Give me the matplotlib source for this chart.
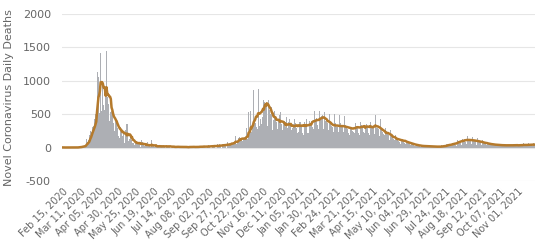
import numpy as np
import pandas as pd
import matplotlib
matplotlib.use("Agg")
import matplotlib.pyplot as plt

start_date = "2020-02-15"

feb_2020 = [1,0,0,0,0,0,0,0,0,0,0,1,0,0,0]
mar_2020 = [0,0,1,1,0,3,2,7,0,11,15,12,18,12,36,21,27,69,128,78,112,112,186,240,231,365,299,319,292,418,499]
apr_2020 = [509,1355,1120,1053,518,833,1417,541,1341,987,635,561,574,762,1438,753,761,642,395,547,531,544,516,389,369,242,437,367,427,289]
may_2020 = [218,166,135,306,330,278,178,243,80,70,263,348,83,351,104,96,130,186,110,131,66,74,43,35,90,98,65,66,52,57,31]
jun_2020 = [13,107,81,44,46,29,13,31,23,87,28,24,29,10,9,111,28,14,28,14,11,24,23,13,13,31,21,6,7,30]
jul_2020 = [18,14,25,16,0,27,14,17,14,21,25,0,0,19,11,17,15,0,0,9,14,19,11,10,0,0,10,15,15,12,0]
aug_2020 = [0,0,12,11,11,0,19,0,0,12,17,17,0,9,0,0,13,17,12,11,23,0,0,18,18,26,14,15,0,0,20]
sep_2020 = [25,30,26,20,0,0,24,34,35,37,18,0,0,46,33,41,50,34,0,0,47,58,50,53,56,0,0,81,58,48]
oct_2020 = [65,61,50,49,72,79,80,88,178,54,40,85,146,163,162,137,141,89,95,146,163,162,137,298,116,128,523,244,235,545,231]
nov_2020 = [302,231,854,385,363,828,306, 271,551,880,328,425,910,354, 452,706,787,675,616,760,628,
            326,704,606,558,500,600,350, 264,414]
dec_2020 = [506,551,457,375,314,274,416, 492,362,527,345,304,256,368, 396,342,304,459,286,239,386,
            420,303,373,260,292,223,351, 420,372,364]
jan_2021 = [294,216,230, 429,374,388,327,322,220,193, 500,377,317,419,284,218,223,
            520,402,360,390,480,312,272, 540,412,405,437,480,331,280]
feb_2021 = [550,520,444,463,486,405,278, 530,446,398,412,370,300,260, 500,388,339,318,301,256,227,
            500,366,330,311,303,237,219]
mar_2021 = [480,359,314,324,305,234,197, 470,336,294,309,274,214,183, 460,313,279,278,251,227,213,
            450,363,315,291,266,215,191, 470,381,330]
apr_2021 = [304,305,231,214, 296,480,354,313,296,211,190, 380,450,300,297,297,290,196,
            480,359,298,288,270,232,169, 419,290,259,226,200]
may_2021 = [183,124, 285,243,271,208,182,119,84, 255,197,178,130,127,105,76, 186,143,115,128,104,77,57,
            152,131,111,91,84,69,54, 106]
jun_2021 = [96,77,67,59,51,33, 70,62,51,45,38,27,18, 53,38,34,27,24,18,12, 34,26,24,22,19,14,9, 30,22,18]
jul_2021 = [16,14,12,6, 24,18,15,14,12,8,5, 20,17,15,12,14,9,6, 30,28,26,25,24,18,12, 58,52,46,44,40,28]
aug_2021 = [20,88,74,64,65,60,42,25, 131,112,96,99,93,64,43, 160,132,118,122,110,84,56,
            165,135,120,118,108,78,50, 150,128]
sep_2021 = [115,106,96,66,42, 140,105,95,85,80,55,35, 110,85,72,70,62,40,28, 85,65,55,50,45,32,22,
            70,52,45,40]
oct_2021 = [36,25,18, 56,42,38,35,32,24,16, 52,40,36,33,30,22,15, 50,40,36,32,30,22,16,
            55,42,38,35,32,24,18]
nov_2021 = [40,48,42,38,34,26,18, 60,46,42,38,35,27,19, 66,52,46,42,38,30,22, 70,55]

daily_deaths = (feb_2020 + mar_2020 + apr_2020 + may_2020 + jun_2020 + jul_2020 + aug_2020 +
                sep_2020 + oct_2020 + nov_2020 + dec_2020 + jan_2021 + feb_2021 + mar_2021 +
                apr_2021 + may_2021 + jun_2021 + jul_2021 + aug_2021 + sep_2021 + oct_2021 + nov_2021)

dates = pd.date_range(start_date, periods=len(daily_deaths), freq="D")
series = pd.Series(daily_deaths, index=dates, dtype=float)
avg7 = series.rolling(7, min_periods=1).mean()

y_ticks = [-500, 0, 500, 1000, 1500, 2000]
tick_every = 25
y_label = "Novel Coronavirus Daily Deaths"

fig = plt.figure(figsize=(5.37, 2.47), dpi=100)
ax = fig.add_axes([62/537, 66/247, 473/537, 167.5/247])

x = np.arange(len(series))
ax.bar(x, series.values, width=1.0, color="#adafb4", linewidth=0, zorder=2)
ax.plot(x, avg7.values, color="#b57a2c", linewidth=1.8, zorder=3)

ax.set_xlim(-1, len(series))
ax.set_ylim(-500, 2000)
ax.set_yticks(y_ticks)
ax.set_yticklabels([str(v) for v in y_ticks])
ax.grid(axis="y", color="#e6e6e6", linewidth=0.8, zorder=0)
ax.set_axisbelow(True)
for s in ax.spines.values():
    s.set_visible(False)

tick_pos = x[::tick_every]
ax.set_xticks(tick_pos)
ax.set_xticklabels([d.strftime("%b %d, %Y") for d in dates[::tick_every]],
                   rotation=45, ha="right", va="top", rotation_mode="anchor",
                   fontsize=7, color="#666666")
ax.tick_params(axis="x", length=0, pad=4)
ax.tick_params(axis="y", length=0, labelsize=8, labelcolor="#666666", pad=8)
ax.set_ylabel(y_label, fontsize=8, color="#666666", labelpad=6)

fig.savefig("out.png", dpi=100)
